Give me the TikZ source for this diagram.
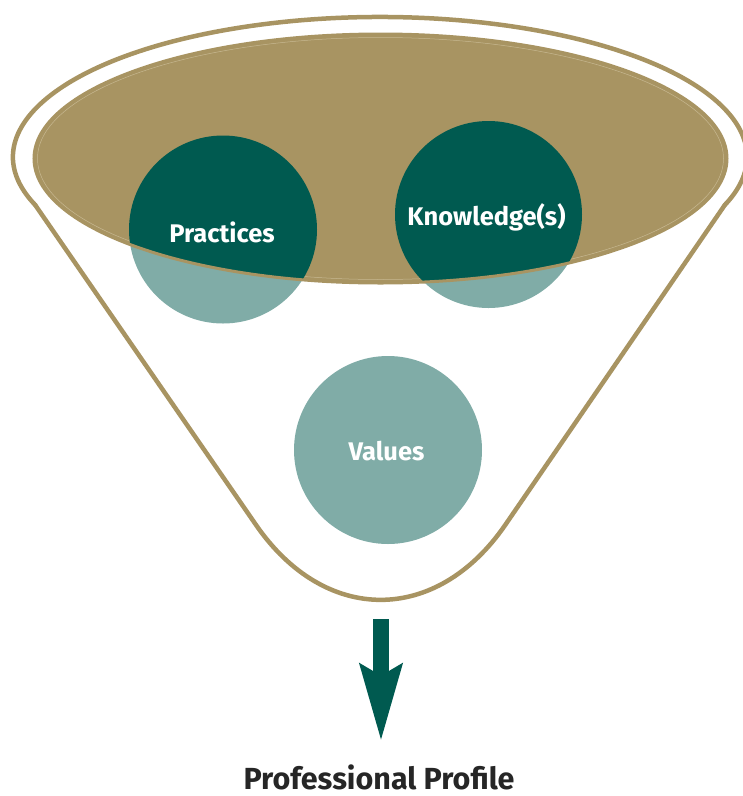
\documentclass[tikz,border=0pt]{standalone}
\usepackage{fontspec}
\setmainfont{Fira Sans}
\usetikzlibrary{arrows.meta}
\definecolor{gold}{HTML}{A89462}
\definecolor{darkgreen}{HTML}{005A50}
\definecolor{lightteal}{HTML}{80ACA7}
\definecolor{cream}{HTML}{E6DCC0}
\begin{document}
\begin{tikzpicture}[x=1pt,y=1pt,
  rim/.style={draw=gold, line width=4.5pt, line cap=round, line join=round},
  lightball/.style={circle, fill=lightteal, minimum size=188pt, inner sep=0pt},
  label/.style={text=white, font=\bfseries\fontsize{25.5}{30}\selectfont, inner sep=0pt},
  result/.style={text=black!85, font=\bfseries\fontsize{30.5}{36}\selectfont, inner sep=0pt}]
\useasboundingbox (0,0) rectangle (743,-796);
% geometry
\coordinate (rimc) at (380,-157);
\coordinate (bowlc) at (380.5,-158.5);
\coordinate (apex) at (381,-706);
\coordinate (rimL) at ({380+367*cos(200)},{-157+140*sin(200)});
\coordinate (rimR) at ({380+367*cos(-20)},{-157+140*sin(-20)});
% outer rim and funnel
\draw[rim] (rimL) arc[start angle=200, end angle=-20, x radius=367, y radius=140];
\draw[rim, rounded corners=220pt] (rimL) -- (apex) -- (rimR);
% light balls
\node[lightball] (prac) at (223,-229.5) {};
\node[lightball, minimum size=187pt] (know) at (488.5,-214.5) {};
\node[lightball] (vals) at (388,-450) {};
% bowl surface
\fill[gold] (bowlc) ellipse[x radius=346.5, y radius=124.5];
\draw[cream, line width=0.5pt, opacity=0.5] (bowlc) ellipse[x radius=343, y radius=121];
\begin{scope}
  \clip (bowlc) ellipse[x radius=346.5, y radius=124.5];
  \fill[darkgreen] (prac.center) circle[radius=94];
  \fill[darkgreen] (know.center) circle[radius=93.5];
\end{scope}
\draw[gold, line width=3pt] (bowlc) ellipse[x radius=346.5, y radius=124.5];
% labels
\node[label] (tprac) at (222,-232) {Practices};
\node[label] (tknow) at (486.5,-217) {Knowledge(s)};
\node[label] (tvals) at (386.5,-451) {Values};
% arrow and result
\coordinate (arrS) at (381,-619);
\coordinate (arrE) at (381,-742);
\node[result] (prof) at (379,-777) {Professional Profile};
\draw[darkgreen, line width=16pt, -{Stealth[length=76pt, width=40pt, inset=10pt]}] (arrS) -- (arrE);
\end{tikzpicture}
\end{document}
